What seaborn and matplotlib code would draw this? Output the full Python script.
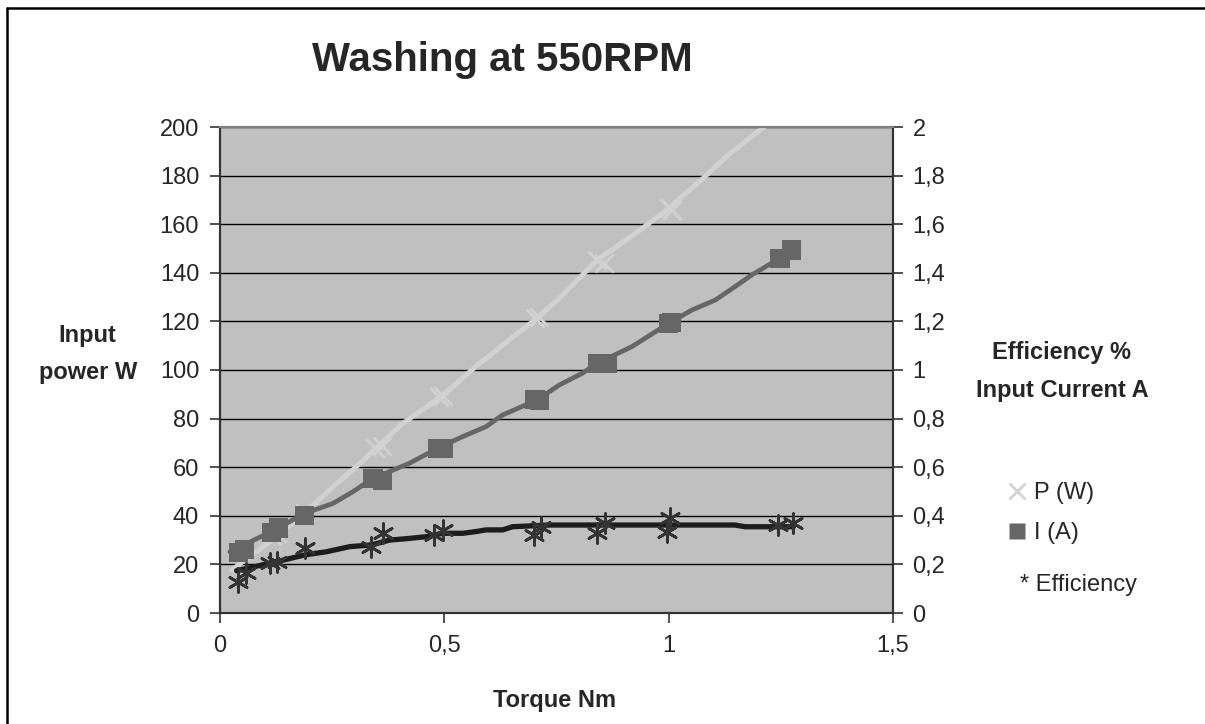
import matplotlib
matplotlib.use("Agg")
import matplotlib.pyplot as plt
import seaborn as sns
from matplotlib.lines import Line2D
from matplotlib.ticker import FuncFormatter, MultipleLocator

# ─── Data ───
p_torque = [0.115, 0.126, 0.189, 0.345, 0.360, 0.487, 0.497, 0.702, 0.712, 0.841, 0.856, 1.0, 1.007]
p_watts = [31.5, 32.9, 41.2, 68.0, 68.8, 89.0, 89.5, 121.4, 122.0, 145.3, 143.9, 166.5, 166.0]

i_torque = [0.041, 0.055, 0.115, 0.130, 0.189, 0.341, 0.362, 0.485, 0.497, 0.702, 0.712,
            0.841, 0.863, 1.0, 1.007, 1.248, 1.274]
i_amps = [0.25, 0.26, 0.33, 0.35, 0.40, 0.554, 0.547, 0.678, 0.678, 0.88, 0.875,
          1.028, 1.028, 1.192, 1.195, 1.46, 1.494]

eff_torque = [0.041, 0.059, 0.111, 0.126, 0.189, 0.337, 0.363, 0.478, 0.496, 0.700, 0.715,
              0.841, 0.859, 0.996, 1.004, 1.244, 1.278]
eff_frac = [0.129, 0.163, 0.204, 0.211, 0.266, 0.273, 0.328, 0.321, 0.342, 0.321, 0.355,
            0.328, 0.369, 0.335, 0.390, 0.362, 0.369]

# trend lines as drawn in the original chart
p_line_x = [0.026, 0.126, 0.189, 0.252, 0.304, 0.351, 0.407, 0.493, 0.570, 0.644, 0.707,
            0.756, 0.841, 0.926, 1.0, 1.081, 1.137, 1.216]
p_line_y = [17.7, 31.4, 41.2, 52.0, 60.2, 68.4, 78.0, 89.0, 101.4, 112.3, 121.4,
            129.5, 145.3, 156.2, 166.5, 179.6, 189.2, 200.5]

i_line_x = [0.022, 0.122, 0.189, 0.252, 0.296, 0.341, 0.422, 0.485, 0.541, 0.593, 0.630,
            0.707, 0.756, 0.807, 0.841, 0.918, 1.0, 1.052, 1.104, 1.148, 1.185, 1.248]
i_line_y = [0.252, 0.342, 0.41, 0.451, 0.499, 0.554, 0.616, 0.678, 0.726, 0.767, 0.815,
            0.877, 0.938, 0.986, 1.028, 1.096, 1.192, 1.247, 1.288, 1.343, 1.391, 1.46]

eff_line_x = [0.037, 0.126, 0.189, 0.237, 0.289, 0.337, 0.378, 0.422, 0.459, 0.496, 0.541,
              0.570, 0.593, 0.630, 0.652, 0.733, 1.148, 1.170, 1.278]
eff_line_y = [0.174, 0.211, 0.239, 0.252, 0.273, 0.280, 0.300, 0.307, 0.314, 0.328, 0.328,
              0.335, 0.342, 0.342, 0.355, 0.362, 0.362, 0.355, 0.355]

# ─── Style ───
LIGHT = "#d2d2d2"
MID = "#666666"
DARK = "#1c1c1c"
FONT = ["Liberation Sans", "DejaVu Sans"]

sns.set_style("white")
plt.rcParams["font.family"] = FONT

W, H = 1205, 724
fig = plt.figure(figsize=(W / 100, H / 100), dpi=100)
ax = fig.add_axes([220 / W, 1 - 613 / H, (893 - 220) / W, (613 - 127) / H])
ax.set_facecolor("#c0c0c0")
ax2 = ax.twinx()

# P (W) on the left axis
sns.lineplot(x=p_line_x, y=p_line_y, ax=ax, color=LIGHT, lw=3.6, sort=False, zorder=3)
sns.scatterplot(x=p_torque, y=p_watts, ax=ax, marker="x", s=170, color=LIGHT,
                linewidth=2, zorder=4)

# I (A) and efficiency on the right axis
sns.lineplot(x=i_line_x, y=i_line_y, ax=ax2, color=MID, lw=3.4, sort=False, zorder=3)
sns.scatterplot(x=i_torque, y=i_amps, ax=ax2, marker="s", s=190, color=MID,
                edgecolor="none", zorder=4)
sns.lineplot(x=eff_line_x, y=eff_line_y, ax=ax2, color=DARK, lw=3.8, sort=False, zorder=3)
sns.scatterplot(x=eff_torque, y=eff_frac, ax=ax2, marker=(6, 2, 0), s=200,
                color="#333333", edgecolor="#333333", linewidth=2, zorder=5)

ax.set_xlim(0, 1.5)
ax.set_ylim(0, 200)
ax2.set_ylim(0, 2)
ax.xaxis.set_major_locator(MultipleLocator(0.5))
ax.yaxis.set_major_locator(MultipleLocator(20))
ax2.yaxis.set_major_locator(MultipleLocator(0.2))

comma = FuncFormatter(lambda v, _: f"{v:g}".replace(".", ","))
ax.xaxis.set_major_formatter(comma)
ax.yaxis.set_major_formatter(comma)
ax2.yaxis.set_major_formatter(comma)

ax.grid(axis="y", color="black", lw=1.0)
ax.set_axisbelow(True)
ax2.grid(False)
ax2.set_facecolor("none")

for a in (ax, ax2):
    for side, sp in a.spines.items():
        sp.set_color("#808080" if side == "top" else "#333333")
        sp.set_linewidth(1.5)
ax.tick_params(axis="x", direction="out", length=7, width=1.2, color="#333333",
               labelsize=17, pad=9, bottom=True)
ax.tick_params(axis="y", direction="out", length=7, width=1.2, color="#333333",
               labelsize=17, pad=8, left=True)
ax2.tick_params(axis="y", direction="out", length=7, width=1.2, color="#333333",
                labelsize=17, pad=7, right=True)
ax.set_xlabel("")
ax.set_ylabel("")
ax2.set_ylabel("")

# ─── Titles and labels ───
fig.text(502 / W, 1 - 60 / H, "Washing at 550RPM", ha="center", va="center",
         fontsize=29, fontweight="bold")
fig.text(555 / W, 1 - 700 / H, "Torque Nm", ha="center", va="center",
         fontsize=17, fontweight="bold")
fig.text(87 / W, 1 - 335 / H, "Input", ha="center", va="center",
         fontsize=17, fontweight="bold")
fig.text(88 / W, 1 - 372 / H, "power W", ha="center", va="center",
         fontsize=17, fontweight="bold")
fig.text(1062 / W, 1 - 353 / H, "Efficiency %", ha="center", va="center",
         fontsize=17, fontweight="bold")
fig.text(1062 / W, 1 - 390 / H, "Input Current A", ha="center", va="center",
         fontsize=17, fontweight="bold")

# ─── Legend ───
handles = [
    Line2D([], [], ls="none", marker="x", ms=11, mew=2, color=LIGHT, label="P (W)"),
    Line2D([], [], ls="none", marker="s", ms=12, mec="none", color=MID, label="I (A)"),
]
fig.legend(handles=handles, loc="center left", bbox_to_anchor=(996 / W, 1 - 513 / H),
           frameon=False, fontsize=17, handlelength=0.8, handletextpad=0.3,
           labelspacing=0.75, borderpad=0)
fig.text(1020 / W, 1 - 585 / H, "* Efficiency", ha="left", va="center", fontsize=17)

# outer chart frame (left and top edges visible)
fig.add_artist(Line2D([7 / W, 7 / W], [0, 1 - 8 / H], color="black", lw=1.8))
fig.add_artist(Line2D([7 / W, 1], [1 - 8 / H, 1 - 8 / H], color="black", lw=1.8))

fig.savefig("out.png", dpi=100)
plt.close(fig)
